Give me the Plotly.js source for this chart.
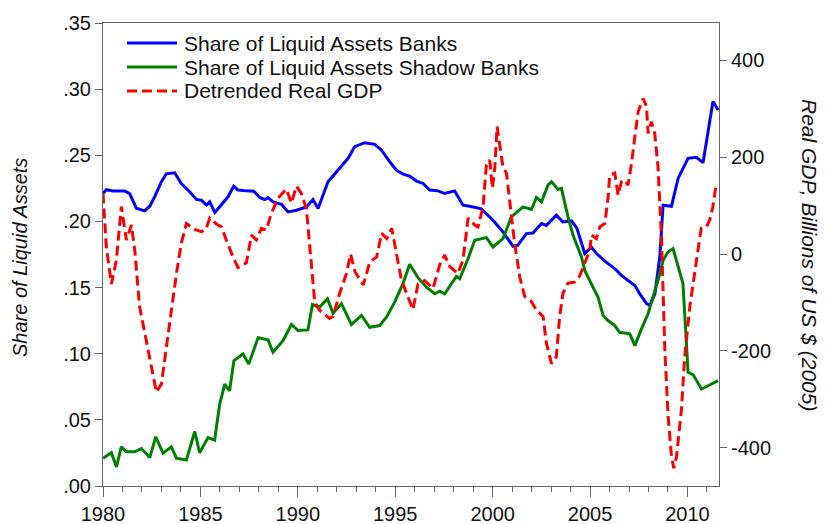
<!DOCTYPE html>
<html>
<head>
<meta charset="utf-8">
<script src="https://cdn.plot.ly/plotly-3.0.1.min.js"></script>
<style>html,body{margin:0;padding:0;background:#fff;}#chart{width:826px;height:524px;}</style>
</head>
<body>
<div id="chart"></div>
<script>
// Share of liquid assets, banks
const bankYears = [1980.00,1980.17,1980.51,1981.11,1981.37,1981.71,1982.14,1982.40,1982.65,1983.00,1983.25,1983.68,1984.02,1984.45,1984.79,1985.05,1985.31,1985.48,1985.74,1986.08,1986.42,1986.71,1986.93,1987.36,1987.74,1988.04,1988.30,1988.47,1988.73,1989.16,1989.50,1989.93,1990.44,1990.78,1991.04,1991.55,1991.98,1992.41,1992.58,1992.92,1993.43,1993.95,1994.29,1994.72,1995.06,1995.40,1995.74,1996.09,1996.43,1996.77,1997.20,1997.54,1998.05,1998.48,1998.82,1999.42,2000.02,2000.53,2001.05,2001.30,2001.73,2002.07,2002.51,2002.76,2003.27,2003.61,2004.05,2004.32,2004.73,2005.07,2005.33,2005.84,2006.27,2006.61,2007.04,2007.30,2007.55,2007.90,2008.07,2008.33,2008.58,2008.75,2009.18,2009.52,2010.03,2010.46,2010.80,2011.31,2011.57];
const bankShare = [0.221,0.224,0.223,0.223,0.221,0.210,0.208,0.2115,0.2186,0.230,0.236,0.2368,0.2287,0.2224,0.2166,0.216,0.2123,0.2148,0.2067,0.2123,0.2186,0.2267,0.2237,0.2231,0.2229,0.2181,0.2166,0.218,0.2148,0.213,0.2072,0.2085,0.211,0.2166,0.2098,0.230,0.2375,0.2451,0.2477,0.2565,0.2595,0.2583,0.254,0.2451,0.2388,0.2358,0.2343,0.2305,0.2287,0.2237,0.2231,0.2211,0.2231,0.2123,0.2115,0.2095,0.2009,0.192,0.1812,0.182,0.1908,0.1913,0.1984,0.197,0.2047,0.1996,0.2005,0.195,0.1757,0.1807,0.1757,0.169,0.1643,0.1592,0.1541,0.1516,0.1453,0.1378,0.1365,0.1453,0.1731,0.2123,0.2115,0.2325,0.2477,0.2485,0.2444,0.2906,0.2843];

// Share of liquid assets, shadow banks
const shadowYears = [1980.00,1980.43,1980.69,1980.94,1981.20,1981.63,1981.97,1982.40,1982.71,1983.08,1983.51,1983.77,1984.28,1984.71,1984.96,1985.39,1985.73,1985.99,1986.25,1986.50,1986.72,1987.19,1987.48,1987.96,1988.47,1988.73,1989.24,1989.67,1990.01,1990.52,1990.75,1991.12,1991.52,1991.81,1992.24,1992.75,1993.27,1993.69,1994.20,1994.55,1994.97,1995.40,1995.74,1996.17,1996.60,1997.03,1997.28,1997.54,1998.14,1998.31,1998.74,1999.08,1999.68,2000.02,2000.53,2000.96,2001.56,2001.99,2002.25,2002.51,2002.84,2003.02,2003.36,2003.53,2003.87,2004.13,2004.56,2004.73,2005.15,2005.41,2005.67,2005.92,2006.27,2006.52,2007.04,2007.30,2007.64,2007.98,2008.23,2008.49,2008.75,2009.00,2009.26,2009.52,2009.77,2009.95,2010.03,2010.29,2010.72,2011.06,2011.57];
const shadowShare = [0.021,0.0252,0.0144,0.0296,0.0258,0.0258,0.0283,0.0215,0.0372,0.0248,0.0296,0.021,0.0197,0.0412,0.0252,0.0366,0.0346,0.0619,0.0771,0.072,0.0948,0.0998,0.0923,0.112,0.1105,0.1011,0.1099,0.1221,0.1175,0.118,0.1372,0.1352,0.1415,0.1306,0.1378,0.1221,0.1289,0.120,0.1213,0.1276,0.139,0.153,0.1676,0.1575,0.1503,0.1453,0.1473,0.1453,0.1585,0.1567,0.1719,0.1857,0.1878,0.1807,0.187,0.2034,0.211,0.209,0.2181,0.2148,0.2274,0.230,0.2242,0.2249,0.2034,0.1895,0.1731,0.163,0.1503,0.1428,0.1289,0.1251,0.1213,0.1162,0.115,0.1061,0.1188,0.1302,0.1428,0.1554,0.1706,0.1769,0.1795,0.1655,0.153,0.1074,0.0859,0.0842,0.0733,0.0758,0.0796];

// Detrended real GDP, billions of 2005 US $
const gdpYears = [1980.00,1980.17,1980.43,1980.69,1980.94,1981.20,1981.46,1981.63,1981.88,1982.23,1982.48,1982.74,1983.00,1983.25,1983.51,1983.77,1984.02,1984.28,1984.71,1985.05,1985.27,1985.48,1985.82,1986.08,1986.33,1986.67,1986.93,1987.36,1987.62,1987.87,1988.13,1988.39,1988.64,1988.98,1989.41,1989.67,1989.93,1990.18,1990.44,1990.70,1990.87,1991.12,1991.63,1991.81,1992.15,1992.50,1992.71,1992.93,1993.36,1993.70,1994.05,1994.30,1994.56,1994.82,1995.08,1995.32,1995.58,1995.91,1996.17,1996.51,1996.94,1997.28,1997.54,1997.80,1998.22,1998.48,1998.74,1999.08,1999.25,1999.51,1999.68,1999.85,1999.99,2000.11,2000.23,2000.37,2000.53,2000.71,2000.88,2001.13,2001.39,2001.65,2001.99,2002.25,2002.59,2002.76,2003.02,2003.27,2003.44,2003.61,2003.87,2004.21,2004.47,2004.73,2004.99,2005.07,2005.33,2005.50,2005.76,2005.93,2006.01,2006.27,2006.44,2006.61,2006.78,2006.95,2007.13,2007.30,2007.47,2007.73,2007.90,2007.98,2008.15,2008.32,2008.49,2008.67,2008.84,2009.01,2009.18,2009.30,2009.44,2009.69,2009.86,2010.12,2010.37,2010.54,2010.71,2010.98,2011.14,2011.31,2011.48];
const gdpDetrended = [125,15,-62,-12,98,29,60,8,-109,-184,-233,-285,-268,-192,-109,-40,22,63,51,46,50,74,62,56,29,-6,-28,-18,39,29,53,50,84,115,134,105,140,125,94,-19,-100,-116,-133,-129,-81,-40,0,-36,-64,-16,-6,43,32,53,-6,-54,-81,-115,-62,-55,-71,-23,-2,-26,-40,-12,74,60,56,98,184,194,136,177,263,228,180,167,105,22,-47,-88,-98,-116,-129,-184,-226,-212,-129,-81,-60,-58,-45,-19,8,39,32,56,63,118,163,167,122,149,153,142,187,242,294,321,304,249,273,249,180,30,-198,-336,-418,-442,-418,-322,-212,-109,-33,8,53,56,70,98,146];

const seriesNames = ['Share of Liquid Assets Banks', 'Share of Liquid Assets Shadow Banks', 'Detrended Real GDP'];
const seriesColors = ['#0000ff', '#008000', '#ff0000'];
const seriesDash = ['solid', 'solid', '10px,5px'];

const leftTickVals = [0, 0.05, 0.10, 0.15, 0.20, 0.25, 0.30, 0.35];
const leftTickText = ['.00', '.05', '.10', '.15', '.20', '.25', '.30', '.35'];
const rightTickVals = [-400, -200, 0, 200, 400];
const rightTickText = ['-400', '-200', '0', '200', '400'];
const xTickVals = [1980, 1985, 1990, 1995, 2000, 2005, 2010];

const FONT = 'Liberation Sans, Arial, sans-serif';

const traces = [
  {x: bankYears, y: bankShare, name: seriesNames[0], type: 'scatter', mode: 'lines',
   line: {color: seriesColors[0], width: 3, dash: seriesDash[0]}, yaxis: 'y'},
  {x: shadowYears, y: shadowShare, name: seriesNames[1], type: 'scatter', mode: 'lines',
   line: {color: seriesColors[1], width: 3, dash: seriesDash[1]}, yaxis: 'y'},
  {x: gdpYears, y: gdpDetrended, name: seriesNames[2], type: 'scatter', mode: 'lines',
   line: {color: seriesColors[2], width: 3, dash: seriesDash[2]}, yaxis: 'y2'}
];

// plot-area geometry (pixels) used for legend/title placement
const PL = 103, PT = 23, PW = 616, PH = 463;
const px = v => (v - PL) / PW;
const py = v => 1 - (v - PT) / PH;

const legendRows = [43, 67, 91];
const shapes = [];
const annotations = [];
seriesNames.forEach((name, i) => {
  shapes.push({type: 'line', xref: 'paper', yref: 'paper', x0: px(127), x1: px(177), y0: py(legendRows[i]), y1: py(legendRows[i]),
    line: {color: seriesColors[i], width: 3, dash: seriesDash[i]}});
  annotations.push({text: name, xref: 'paper', yref: 'paper', x: px(182), y: py(legendRows[i]), xanchor: 'left', yanchor: 'middle',
    showarrow: false, font: {family: FONT, size: 21, color: '#111'}});
});
annotations.push(
  {text: 'Share of Liquid Assets', xref: 'paper', yref: 'paper', x: px(20), y: py(258),
   xanchor: 'center', yanchor: 'middle', textangle: -90, showarrow: false,
   font: {family: FONT, size: 20, color: '#111', style: 'italic'}},
  {text: 'Real GDP, Billions of US $ (2005)', xref: 'paper', yref: 'paper', x: px(809), y: py(255),
   xanchor: 'center', yanchor: 'middle', textangle: 90, showarrow: false,
   font: {family: FONT, size: 21, color: '#111', style: 'italic'}}
);

const axisCommon = {showgrid: false, zeroline: false, showline: true, linecolor: '#666', linewidth: 1,
  ticks: 'outside', tickcolor: '#666', tickwidth: 1, tickfont: {family: FONT, size: 20, color: '#111'}};

const layout = {
  width: 826, height: 524,
  margin: {l: 103, r: 107, t: 23, b: 38},
  paper_bgcolor: '#fff', plot_bgcolor: '#fff',
  showlegend: false,
  xaxis: Object.assign({}, axisCommon, {range: [1980, 2011.62], tickvals: xTickVals, ticklen: 10, mirror: true,
    minor: {dtick: 1, tick0: 1980, ticks: 'outside', ticklen: 5, tickcolor: '#666', showgrid: false}}),
  yaxis: Object.assign({}, axisCommon, {range: [0, 0.35], tickvals: leftTickVals, ticktext: leftTickText, ticklen: 7}),
  yaxis2: Object.assign({}, axisCommon, {range: [-478.8, 476.8], overlaying: 'y', side: 'right',
    tickvals: rightTickVals, ticktext: rightTickText, ticklen: 7}),
  shapes: shapes,
  annotations: annotations
};

Plotly.newPlot('chart', traces, layout, {displayModeBar: false, staticPlot: true});
</script>
</body>
</html>
